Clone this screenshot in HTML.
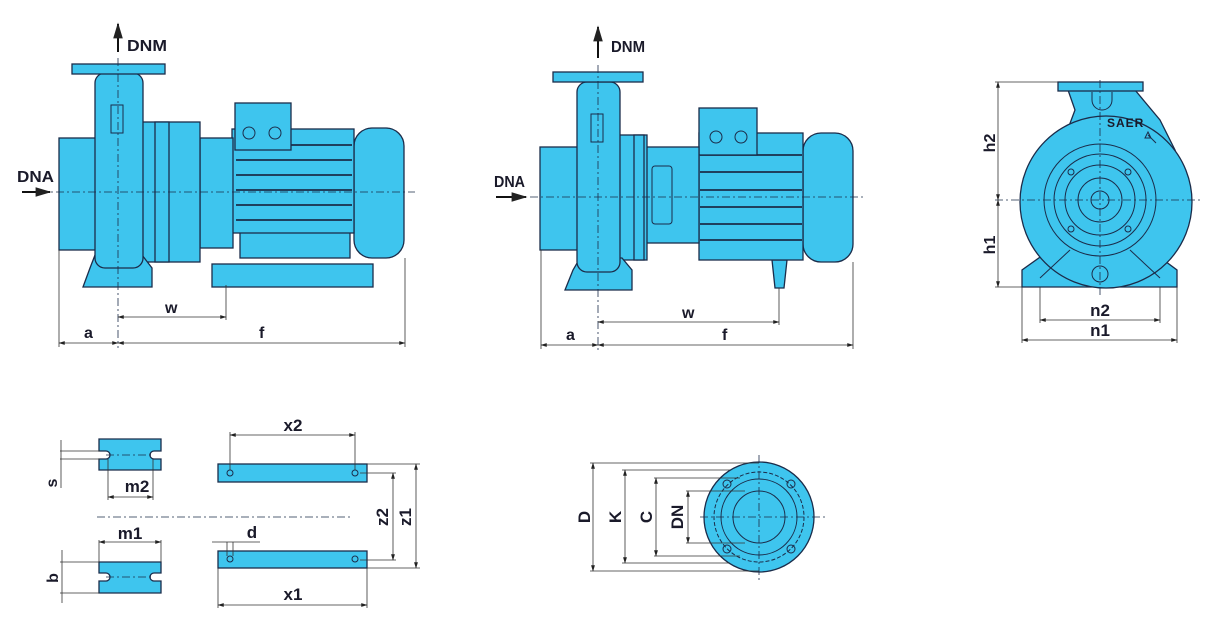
<!DOCTYPE html>
<html><head><meta charset="utf-8"><style>
html,body{margin:0;padding:0;background:#fff;}
svg{display:block}
text{font-family:"Liberation Sans Narrow","Liberation Sans",sans-serif;font-weight:bold;fill:#1a1a2a}
.b{fill:#3ec5ee;stroke:#1b2c4a;stroke-width:1.3}
.l{stroke:#1b2c4a;stroke-width:1;fill:none}
.f{stroke:#1b2c4a;stroke-width:1.8;fill:none}
.d{stroke:#333;stroke-width:0.8;fill:none}
.c{stroke:#1b2c4a;stroke-width:0.8;fill:none;stroke-dasharray:8 3 2 3}
</style></head><body>
<svg width="1215" height="625" viewBox="0 0 1215 625" xmlns="http://www.w3.org/2000/svg">
<defs><marker id="a" viewBox="0 0 10 10" refX="9" refY="5" markerWidth="8" markerHeight="8" orient="auto-start-reverse"><path d="M0,2 L10,5 L0,8 z" fill="#222"/></marker></defs>

<!-- ============ PUMP 1 ============ -->
<rect class="b" x="212" y="264" width="161" height="23"/>
<rect class="b" x="240" y="230" width="110" height="28"/>
<rect class="b" x="354" y="128" width="50" height="130" rx="18"/>
<rect class="b" x="232" y="129" width="122" height="104"/>
<g class="f"><line x1="236" y1="145" x2="352" y2="145"/><line x1="236" y1="160" x2="352" y2="160"/><line x1="236" y1="175" x2="352" y2="175"/><line x1="236" y1="190" x2="352" y2="190"/><line x1="236" y1="205" x2="352" y2="205"/><line x1="236" y1="220" x2="352" y2="220"/></g>
<rect class="b" x="235" y="103" width="56" height="47"/>
<circle class="l" cx="249" cy="133" r="6"/><circle class="l" cx="275" cy="133" r="6"/>
<rect class="b" x="200" y="138" width="33" height="110"/>
<rect class="l" x="176" y="155" width="22" height="60" rx="3"/>
<rect class="b" x="140" y="122" width="60" height="140"/>
<rect class="b" x="155" y="122" width="14" height="140"/>
<rect class="b" x="59" y="138" width="41" height="112"/>
<polygon class="b" points="83,287 152,287 152,268 142,255 95,255 90,268"/>
<rect class="b" x="95" y="73" width="48" height="195" rx="10"/>
<rect class="b" x="72" y="64" width="93" height="10"/>
<rect class="l" x="111" y="105" width="12" height="28"/>
<!-- dims 1 -->
<line class="c" x1="118" y1="58" x2="118" y2="348"/>
<line class="c" x1="40" y1="192" x2="415" y2="192"/>
<line x1="118" y1="52" x2="118" y2="24" stroke="#111" stroke-width="2" marker-end="url(#a)"/>
<text x="127" y="51" font-size="16" textLength="40" lengthAdjust="spacingAndGlyphs">DNM</text>
<text x="17" y="182" font-size="16" textLength="37" lengthAdjust="spacingAndGlyphs">DNA</text>
<line x1="22" y1="192" x2="50" y2="192" stroke="#111" stroke-width="2" marker-end="url(#a)"/>
<line class="d" x1="59" y1="250" x2="59" y2="347"/>
<line class="d" x1="405" y1="258" x2="405" y2="347"/>
<line class="d" x1="226" y1="285" x2="226" y2="320"/>
<line class="d" x1="118" y1="317" x2="226" y2="317" marker-start="url(#a)" marker-end="url(#a)"/>
<line class="d" x1="59" y1="343" x2="118" y2="343" marker-start="url(#a)" marker-end="url(#a)"/>
<line class="d" x1="118" y1="343" x2="405" y2="343" marker-start="url(#a)" marker-end="url(#a)"/>
<text x="165" y="313" font-size="16">w</text>
<text x="84" y="338" font-size="16">a</text>
<text x="259" y="338" font-size="16">f</text>

<!-- ============ PUMP 2 ============ -->
<polygon class="b" points="772,260 787,260 784,288 775,288"/>
<rect class="b" x="803" y="133" width="50" height="129" rx="18"/>
<rect class="b" x="699" y="133" width="104" height="127"/>
<g class="f"><line x1="700" y1="155" x2="802" y2="155"/><line x1="700" y1="172" x2="802" y2="172"/><line x1="700" y1="190" x2="802" y2="190"/><line x1="700" y1="207" x2="802" y2="207"/><line x1="700" y1="224" x2="802" y2="224"/><line x1="700" y1="240" x2="802" y2="240"/></g>
<rect class="b" x="699" y="108" width="58" height="47"/>
<circle class="l" cx="716" cy="137" r="6"/><circle class="l" cx="741" cy="137" r="6"/>
<rect class="b" x="645" y="147" width="54" height="96"/>
<rect class="l" x="652" y="166" width="20" height="58" rx="3"/>
<rect class="b" x="619" y="135" width="28" height="125"/>
<rect class="b" x="634" y="135" width="10" height="125"/>
<rect class="b" x="540" y="147" width="38" height="103"/>
<polygon class="b" points="565,290 632,290 632,270 622,258 580,258 573,270"/>
<rect class="b" x="577" y="82" width="43" height="190" rx="10"/>
<rect class="b" x="553" y="72" width="90" height="10"/>
<rect class="l" x="591" y="114" width="12" height="28"/>
<line class="c" x1="598" y1="65" x2="598" y2="350"/>
<line class="c" x1="530" y1="197" x2="865" y2="197"/>
<line x1="598" y1="58" x2="598" y2="27" stroke="#111" stroke-width="2" marker-end="url(#a)"/>
<text x="611" y="52" font-size="16" textLength="34" lengthAdjust="spacingAndGlyphs">DNM</text>
<text x="494" y="187" font-size="16" textLength="31" lengthAdjust="spacingAndGlyphs">DNA</text>
<line x1="496" y1="197" x2="526" y2="197" stroke="#111" stroke-width="2" marker-end="url(#a)"/>
<line class="d" x1="541" y1="250" x2="541" y2="349"/>
<line class="d" x1="853" y1="262" x2="853" y2="349"/>
<line class="d" x1="779" y1="288" x2="779" y2="325"/>
<line class="d" x1="598" y1="322" x2="779" y2="322" marker-start="url(#a)" marker-end="url(#a)"/>
<line class="d" x1="541" y1="345" x2="598" y2="345" marker-start="url(#a)" marker-end="url(#a)"/>
<line class="d" x1="598" y1="345" x2="853" y2="345" marker-start="url(#a)" marker-end="url(#a)"/>
<text x="682" y="318" font-size="16">w</text>
<text x="566" y="340" font-size="16">a</text>
<text x="722" y="340" font-size="16">f</text>

<!-- ============ PUMP 3 front ============ -->
<polygon class="b" points="1022,287 1177,287 1177,270 1150,250 1050,250 1022,270"/>
<polygon class="b" points="1068,90 1135,90 1160,120 1175,150 1060,150 1075,110"/>
<circle class="b" cx="1106" cy="202" r="86"/>
<rect class="b" x="1058" y="82" width="85" height="9"/>
<path class="l" d="M1092,92 v8 a10,10 0 0 0 20,0 v-8"/>
<circle class="l" cx="1100" cy="200" r="56"/>
<circle class="l" cx="1100" cy="200" r="46"/>
<circle class="l" cx="1100" cy="200" r="35"/>
<circle class="l" cx="1100" cy="200" r="22"/>
<circle class="l" cx="1100" cy="200" r="9"/>
<circle class="l" cx="1100" cy="274" r="8"/>
<g class="l"><circle cx="1071" cy="172" r="3"/><circle cx="1128" cy="172" r="3"/><circle cx="1071" cy="229" r="3"/><circle cx="1128" cy="229" r="3"/>
<path d="M1040,278 L1070,250"/><path d="M1160,278 L1130,250"/></g>
<text x="1107" y="127" font-size="12" font-weight="normal" letter-spacing="1">SAER</text>
<path class="l" d="M1145,138 l6,0 l-3,-6 z M1148,135 l8,8"/>
<line class="c" x1="1100" y1="80" x2="1100" y2="295"/>
<line class="c" x1="995" y1="200" x2="1200" y2="200"/>
<line class="d" x1="995" y1="82" x2="1058" y2="82"/>
<line class="d" x1="995" y1="287" x2="1022" y2="287"/>
<line class="d" x1="998" y1="82" x2="998" y2="200" marker-start="url(#a)" marker-end="url(#a)"/>
<line class="d" x1="998" y1="200" x2="998" y2="287" marker-start="url(#a)" marker-end="url(#a)"/>
<text transform="translate(995,143) rotate(-90)" font-size="16" text-anchor="middle">h2</text>
<text transform="translate(995,245) rotate(-90)" font-size="16" text-anchor="middle">h1</text>
<line class="d" x1="1040" y1="287" x2="1040" y2="323"/>
<line class="d" x1="1160" y1="287" x2="1160" y2="323"/>
<line class="d" x1="1022" y1="287" x2="1022" y2="343"/>
<line class="d" x1="1177" y1="287" x2="1177" y2="343"/>
<line class="d" x1="1040" y1="320" x2="1160" y2="320" marker-start="url(#a)" marker-end="url(#a)"/>
<line class="d" x1="1022" y1="340" x2="1177" y2="340" marker-start="url(#a)" marker-end="url(#a)"/>
<text x="1100" y="316" font-size="17" text-anchor="middle">n2</text>
<text x="1100" y="336" font-size="17" text-anchor="middle">n1</text>

<!-- ============ Bottom: feet pads ============ -->
<path class="b" d="M99,439 H161 V451 h-7 a4,4 0 0 0 0,8 h7 V470 H99 V459 h7 a4,4 0 0 0 0,-8 h-7 z"/>
<path class="b" d="M99,562 H161 V573 h-7 a4,4 0 0 0 0,8 h7 V593 H99 V581 h7 a4,4 0 0 0 0,-8 h-7 z"/>
<line class="c" x1="106" y1="455" x2="154" y2="455"/>
<line class="c" x1="106" y1="577" x2="154" y2="577"/>
<line class="d" x1="60" y1="451" x2="100" y2="451"/><line class="d" x1="60" y1="459" x2="100" y2="459"/>
<line class="d" x1="61" y1="440" x2="61" y2="488"/>
<text transform="translate(57,483) rotate(-90)" font-size="16" text-anchor="middle">s</text>
<line class="d" x1="108" y1="459" x2="108" y2="500"/><line class="d" x1="153" y1="459" x2="153" y2="500"/>
<line class="d" x1="108" y1="497" x2="153" y2="497" marker-start="url(#a)" marker-end="url(#a)"/>
<text x="137" y="492" font-size="17" text-anchor="middle">m2</text>
<line class="d" x1="99" y1="540" x2="99" y2="562"/><line class="d" x1="161" y1="540" x2="161" y2="562"/>
<line class="d" x1="99" y1="542" x2="161" y2="542" marker-start="url(#a)" marker-end="url(#a)"/>
<text x="130" y="539" font-size="17" text-anchor="middle">m1</text>
<line class="d" x1="60" y1="562" x2="99" y2="562"/><line class="d" x1="60" y1="593" x2="99" y2="593"/>
<line class="d" x1="62" y1="550" x2="62" y2="603" />
<text transform="translate(58,578) rotate(-90)" font-size="16" text-anchor="middle">b</text>
<line class="c" x1="97" y1="517" x2="353" y2="517"/>

<rect class="b" x="218" y="464" width="149" height="18"/>
<rect class="b" x="218" y="551" width="149" height="17"/>
<g class="l"><circle cx="230" cy="473" r="3"/><circle cx="355" cy="473" r="3"/><circle cx="230" cy="559" r="3"/><circle cx="355" cy="559" r="3"/></g>
<line class="d" x1="230" y1="432" x2="230" y2="470"/><line class="d" x1="355" y1="432" x2="355" y2="470"/>
<line class="d" x1="230" y1="435" x2="355" y2="435" marker-start="url(#a)" marker-end="url(#a)"/>
<text x="293" y="431" font-size="17" text-anchor="middle">x2</text>
<line class="d" x1="218" y1="568" x2="218" y2="608"/><line class="d" x1="367" y1="568" x2="367" y2="608"/>
<line class="d" x1="218" y1="605" x2="367" y2="605" marker-start="url(#a)" marker-end="url(#a)"/>
<text x="293" y="600" font-size="17" text-anchor="middle">x1</text>
<line class="d" x1="212" y1="542" x2="260" y2="542"/>
<line class="d" x1="227" y1="542" x2="227" y2="556"/><line class="d" x1="233" y1="542" x2="233" y2="556"/>
<text x="252" y="538" font-size="17" text-anchor="middle">d</text>
<line class="d" x1="367" y1="464" x2="420" y2="464"/><line class="d" x1="360" y1="473" x2="396" y2="473"/>
<line class="d" x1="360" y1="560" x2="396" y2="560"/><line class="d" x1="367" y1="568" x2="420" y2="568"/>
<line class="d" x1="393" y1="473" x2="393" y2="560" marker-start="url(#a)" marker-end="url(#a)"/>
<line class="d" x1="416" y1="464" x2="416" y2="568" marker-start="url(#a)" marker-end="url(#a)"/>
<text transform="translate(388,517) rotate(-90)" font-size="17" text-anchor="middle">z2</text>
<text transform="translate(411,517) rotate(-90)" font-size="17" text-anchor="middle">z1</text>

<!-- ============ Flange ============ -->
<circle class="b" cx="759" cy="517" r="55"/>
<circle class="l" cx="759" cy="517" r="45" stroke-dasharray="4 2"/>
<circle class="l" cx="759" cy="517" r="38"/>
<circle class="l" cx="759" cy="517" r="26"/>
<g class="l"><circle cx="727" cy="484" r="4"/><circle cx="791" cy="484" r="4"/><circle cx="727" cy="549" r="4"/><circle cx="791" cy="549" r="4"/></g>
<line class="c" x1="759" y1="455" x2="759" y2="580"/>
<line class="c" x1="700" y1="517" x2="825" y2="517"/>
<line class="d" x1="590" y1="463" x2="759" y2="463"/><line class="d" x1="590" y1="571" x2="759" y2="571"/>
<line class="d" x1="622" y1="470" x2="730" y2="470"/><line class="d" x1="622" y1="563" x2="730" y2="563"/>
<line class="d" x1="654" y1="478" x2="740" y2="478"/><line class="d" x1="654" y1="556" x2="740" y2="556"/>
<line class="d" x1="686" y1="491" x2="745" y2="491"/><line class="d" x1="686" y1="543" x2="745" y2="543"/>
<line class="d" x1="593" y1="463" x2="593" y2="571" marker-start="url(#a)" marker-end="url(#a)"/>
<line class="d" x1="625" y1="470" x2="625" y2="563" marker-start="url(#a)" marker-end="url(#a)"/>
<line class="d" x1="656" y1="478" x2="656" y2="556" marker-start="url(#a)" marker-end="url(#a)"/>
<line class="d" x1="688" y1="491" x2="688" y2="543" marker-start="url(#a)" marker-end="url(#a)"/>
<text transform="translate(590,517) rotate(-90)" font-size="17" text-anchor="middle">D</text>
<text transform="translate(621,517) rotate(-90)" font-size="17" text-anchor="middle">K</text>
<text transform="translate(652,517) rotate(-90)" font-size="17" text-anchor="middle">C</text>
<text transform="translate(683,517) rotate(-90)" font-size="17" text-anchor="middle">DN</text>
</svg>
</body></html>
